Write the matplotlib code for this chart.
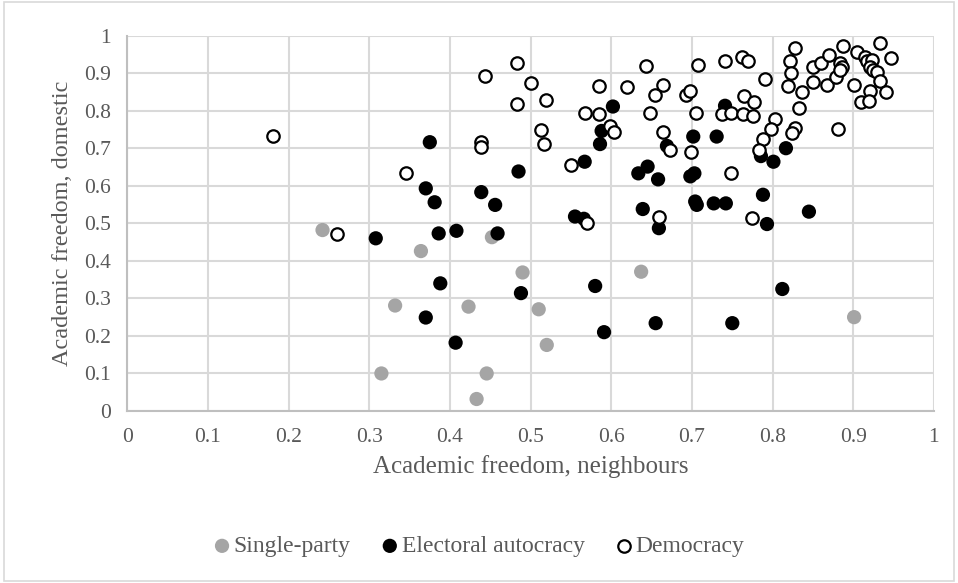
import matplotlib.pyplot as plt
from matplotlib.patches import Rectangle

# Single-party regimes
sp_x = [0.242, 0.364, 0.332, 0.315, 0.423, 0.452, 0.490, 0.510, 0.520, 0.4455, 0.433, 0.637, 0.901]
sp_y = [0.482, 0.426, 0.281, 0.100, 0.278, 0.463, 0.369, 0.271, 0.176, 0.100, 0.032, 0.371, 0.250]

# Electoral autocracies
ea_x = [0.308, 0.386, 0.370, 0.388, 0.408, 0.459, 0.488, 0.580, 0.591, 0.655, 0.407, 0.659,
        0.793, 0.812, 0.750, 0.375, 0.370, 0.381, 0.4388, 0.456, 0.485, 0.602, 0.588, 0.586,
        0.567, 0.669, 0.7016, 0.6335, 0.645, 0.658, 0.698, 0.703, 0.555, 0.566, 0.639, 0.704,
        0.706, 0.741, 0.7306, 0.8165, 0.7855, 0.801, 0.788, 0.727, 0.742, 0.845]
ea_y = [0.460, 0.473, 0.249, 0.340, 0.480, 0.473, 0.314, 0.333, 0.210, 0.234, 0.182, 0.487,
        0.498, 0.325, 0.234, 0.716, 0.593, 0.556, 0.583, 0.549, 0.638, 0.811, 0.746, 0.711,
        0.664, 0.706, 0.731, 0.633, 0.651, 0.617, 0.625, 0.633, 0.518, 0.512, 0.538, 0.558,
        0.549, 0.813, 0.731, 0.700, 0.679, 0.664, 0.576, 0.553, 0.553, 0.531]

# Democracies
de_x = [0.181, 0.2596, 0.346, 0.4385, 0.4385, 0.483, 0.443, 0.500, 0.483, 0.519, 0.513, 0.5166,
        0.550, 0.5695, 0.659, 0.585, 0.620, 0.643, 0.664, 0.6545, 0.567, 0.585, 0.648, 0.6926,
        0.698, 0.705, 0.708, 0.599, 0.603, 0.664, 0.673, 0.699, 0.7405, 0.762, 0.769, 0.828,
        0.821, 0.791, 0.823, 0.8186, 0.836, 0.8496, 0.8596, 0.8695, 0.850, 0.867, 0.879, 0.8835,
        0.8856, 0.884, 0.887, 0.904, 0.914, 0.9166, 0.923, 0.9206, 0.924, 0.930, 0.933, 0.947,
        0.933, 0.901, 0.941, 0.9206, 0.910, 0.920, 0.8327, 0.881, 0.7645, 0.777, 0.737, 0.749,
        0.763, 0.776, 0.803, 0.7975, 0.788, 0.828, 0.8236, 0.783, 0.748, 0.774]
de_y = [0.733, 0.472, 0.633, 0.717, 0.704, 0.928, 0.891, 0.873, 0.819, 0.829, 0.749, 0.711,
        0.654, 0.500, 0.516, 0.866, 0.862, 0.918, 0.867, 0.842, 0.795, 0.791, 0.795, 0.842,
        0.853, 0.795, 0.922, 0.758, 0.743, 0.743, 0.695, 0.691, 0.931, 0.942, 0.933, 0.966,
        0.931, 0.884, 0.900, 0.866, 0.851, 0.917, 0.926, 0.947, 0.875, 0.867, 0.889, 0.928,
        0.915, 0.909, 0.971, 0.956, 0.944, 0.931, 0.935, 0.917, 0.909, 0.904, 0.981, 0.939,
        0.880, 0.867, 0.851, 0.853, 0.823, 0.827, 0.808, 0.751, 0.839, 0.823, 0.790, 0.793,
        0.790, 0.787, 0.777, 0.751, 0.724, 0.755, 0.740, 0.695, 0.635, 0.515]

ticks = [0, 0.1, 0.2, 0.3, 0.4, 0.5, 0.6, 0.7, 0.8, 0.9, 1]
tick_labels = ['0', '0.1', '0.2', '0.3', '0.4', '0.5', '0.6', '0.7', '0.8', '0.9', '1']

plt.rcParams['font.family'] = ['Liberation Serif', 'DejaVu Serif']
txt = '#595959'

fig = plt.figure(figsize=(9.58, 5.83), dpi=100)
fig.patches.append(Rectangle((0.004, 0.003), 0.992, 0.994, transform=fig.transFigure,
                             fill=False, edgecolor='#D9D9D9', linewidth=1.2))
ax = fig.add_axes([0.1329, 0.295, 0.842, 0.644])

ax.scatter(sp_x, sp_y, s=105, color='#A5A5A5', edgecolors='none', label='Single-party', zorder=3)
ax.scatter(ea_x, ea_y, s=105, color='black', edgecolors='none', label='Electoral autocracy', zorder=3)
ax.scatter(de_x, de_y, s=80, facecolors='white', edgecolors='black', linewidths=1.6,
           label='Democracy', zorder=3)

ax.set_xlim(0, 1)
ax.set_ylim(0, 1)
ax.set_xticks(ticks)
ax.set_xticklabels(tick_labels)
ax.set_yticks(ticks)
ax.set_yticklabels(tick_labels)
ax.grid(True, color='#D9D9D9', linewidth=1.5)
ax.set_axisbelow(True)
ax.tick_params(length=0, colors=txt, labelsize=15.5)
ax.tick_params(axis='x', pad=12)
ax.tick_params(axis='y', pad=12)
for side in ['top', 'right']:
    ax.spines[side].set_visible(False)
for side in ['left', 'bottom']:
    ax.spines[side].set_color('#BFBFBF')
    ax.spines[side].set_linewidth(1.5)

ax.set_xlabel('Academic freedom, neighbours', color=txt, fontsize=18, labelpad=6)
ax.set_ylabel('Academic freedom, domestic', color=txt, fontsize=17.5, labelpad=8)

fig.legend(loc='center', bbox_to_anchor=(0.5, 0.063), ncol=3, frameon=False,
           fontsize=17, handlelength=0.7, handletextpad=0.15, columnspacing=1.3,
           labelcolor=txt)

fig.savefig('out.png', dpi=100)
